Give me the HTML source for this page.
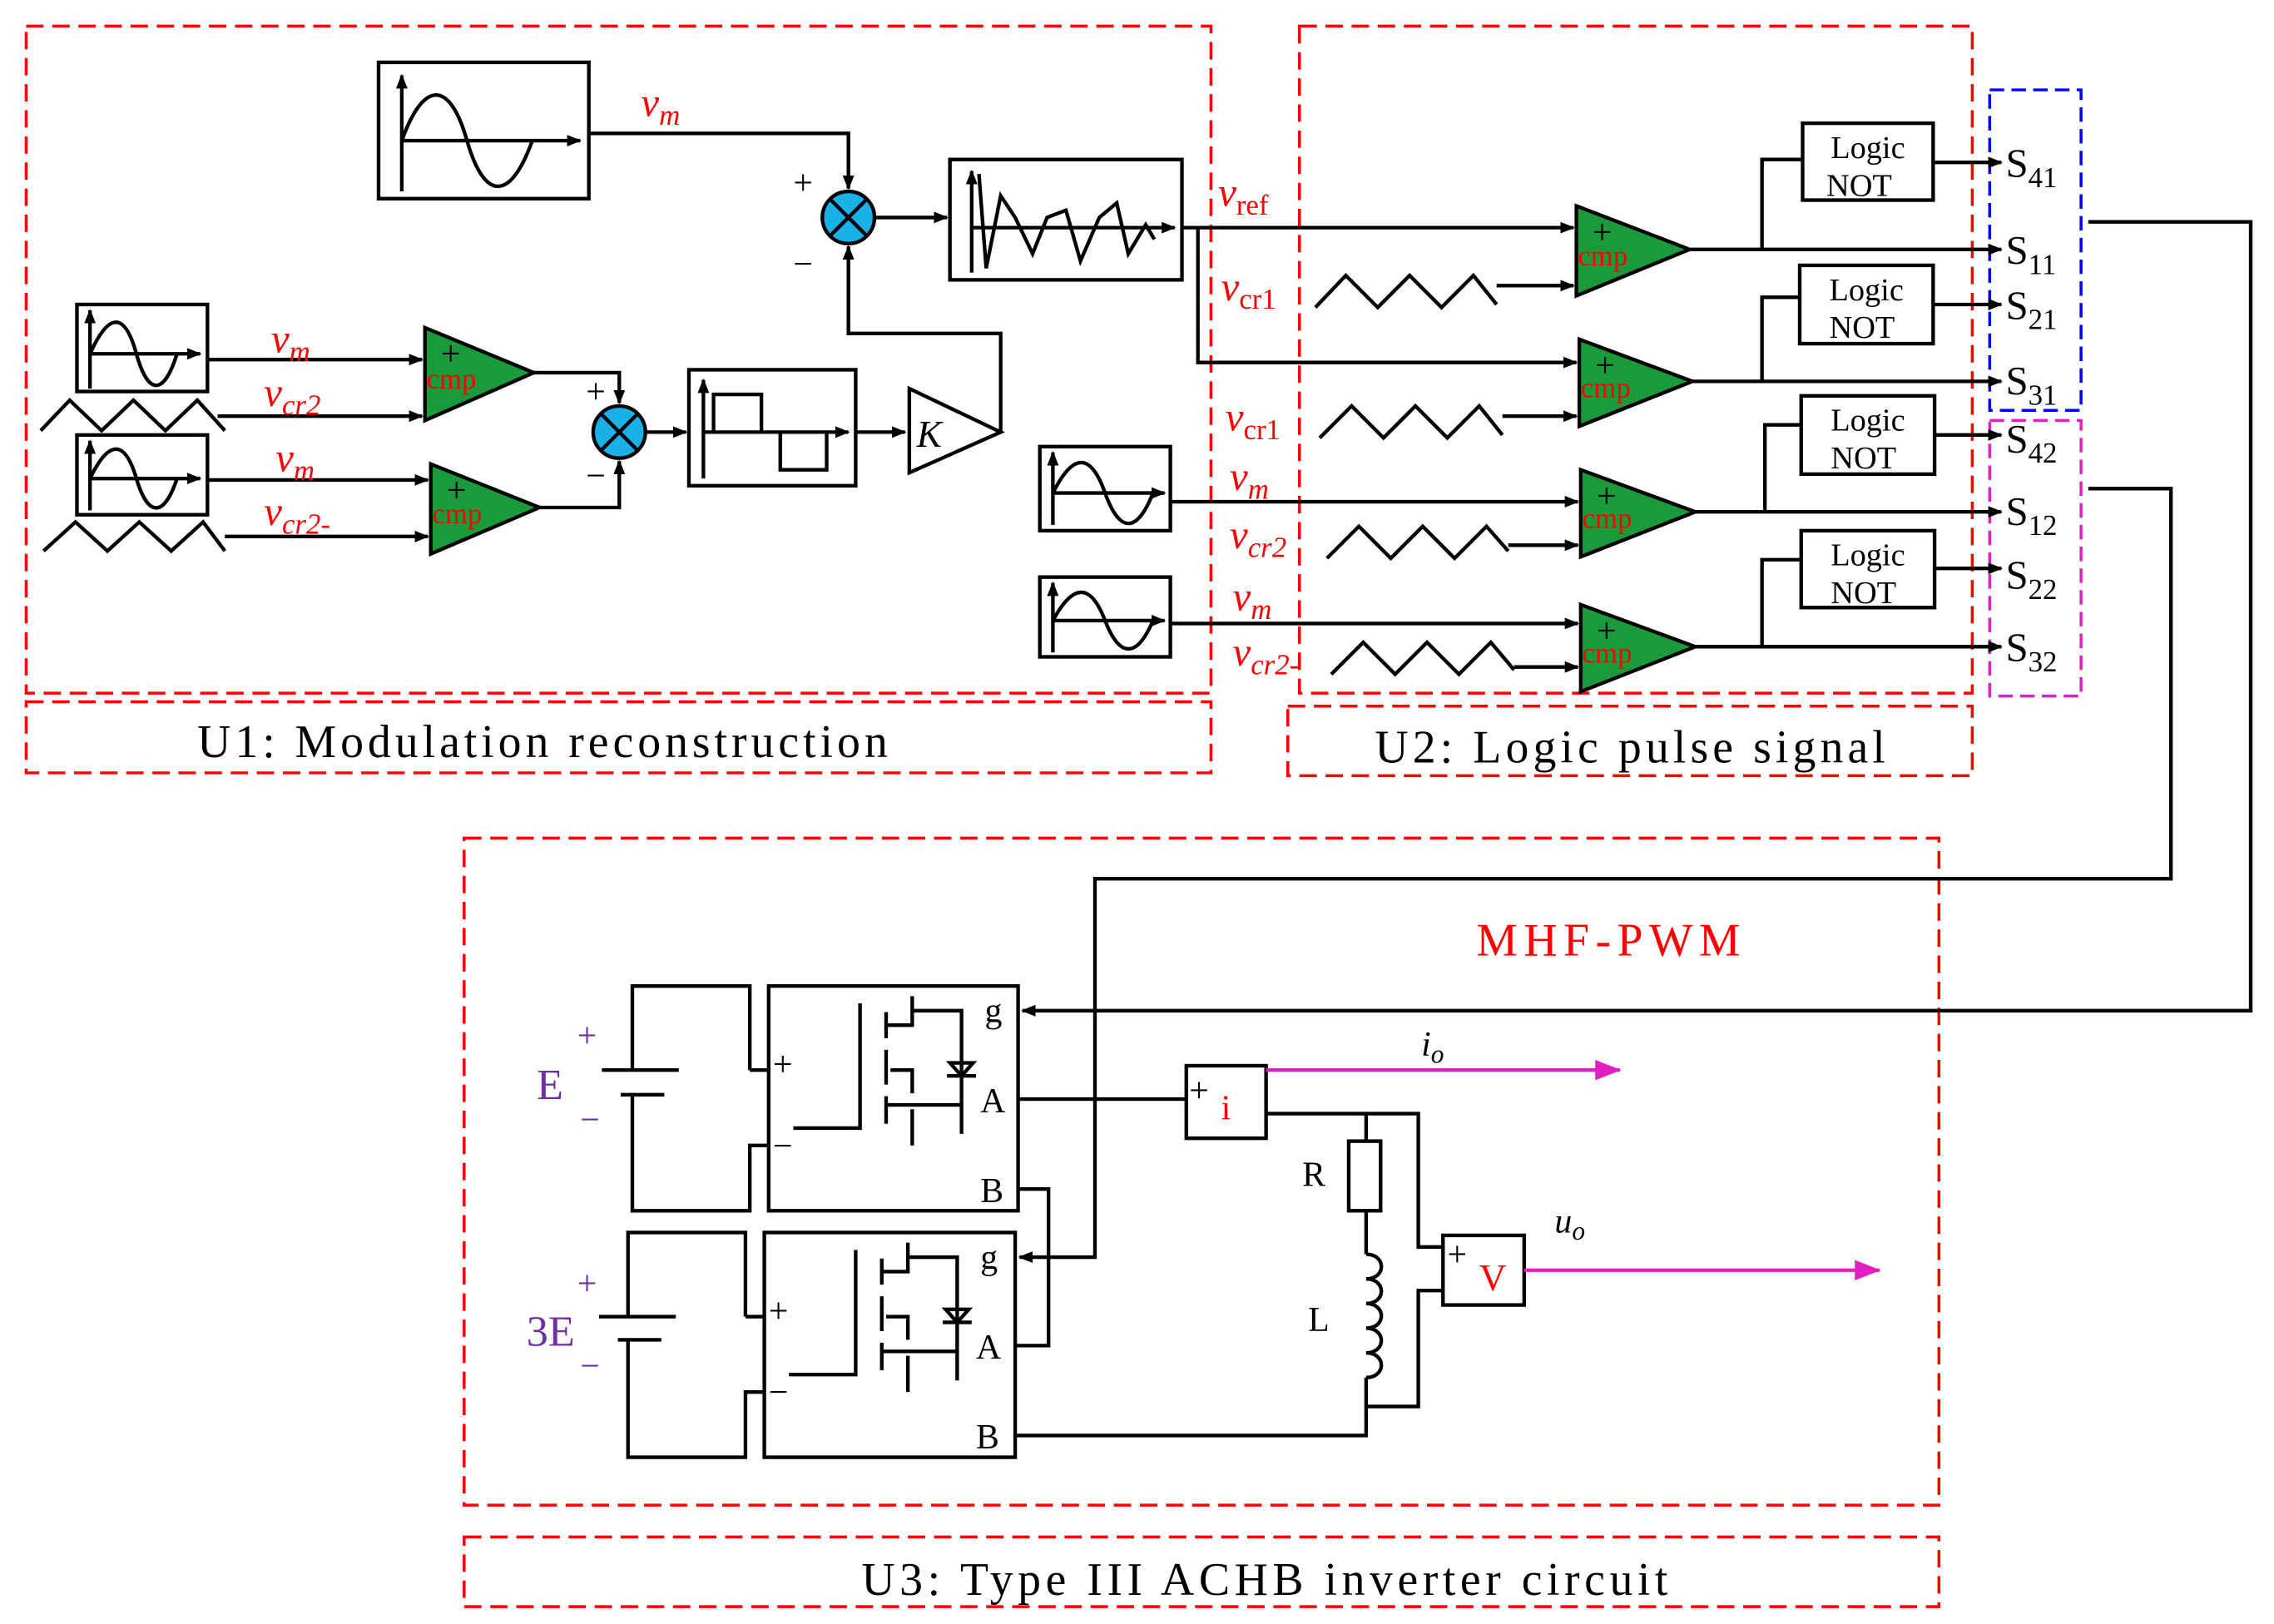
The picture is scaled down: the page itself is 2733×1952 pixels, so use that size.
<!DOCTYPE html>
<html><head><meta charset="utf-8"><style>html,body{margin:0;padding:0;background:#fff}svg{display:block}</style></head>
<body>
<svg width="2733" height="1952" viewBox="0 0 1568 1120" xmlns="http://www.w3.org/2000/svg" font-family="Liberation Serif, serif">
<defs>
<marker id="a" markerWidth="10" markerHeight="8" refX="9" refY="4" orient="auto" markerUnits="userSpaceOnUse"><path d="M0,0 L10,4 L0,8z" fill="#000"/></marker>
<marker id="m" markerWidth="18" markerHeight="14" refX="17" refY="7" orient="auto" markerUnits="userSpaceOnUse"><path d="M0,0 L18,7 L0,14z" fill="#e020c0"/></marker>
</defs>
<rect width="1568" height="1120" fill="#fff"/>
<g fill="none" stroke="#f00" stroke-width="2" stroke-dasharray="12,6">
<rect x="18" y="18" width="817" height="460"/>
<rect x="18" y="484" width="817" height="49"/>
<rect x="896" y="18" width="464" height="460"/>
<rect x="888" y="487" width="472" height="48"/>
<rect x="320" y="578" width="1017" height="460"/>
<rect x="320" y="1060" width="1017" height="48"/>
</g>
<rect x="1372" y="62" width="63" height="221" fill="none" stroke="#00f" stroke-width="2" stroke-dasharray="10,5"/>
<rect x="1372" y="290" width="63" height="190" fill="none" stroke="#e020c0" stroke-width="2" stroke-dasharray="10,5"/>
<g font-size="32" fill="#000">
<text x="136" y="522" textLength="476" lengthAdjust="spacing">U1:  Modulation reconstruction</text>
<text x="948" y="526" textLength="352" lengthAdjust="spacing">U2:  Logic pulse signal</text>
<text x="594" y="1100" textLength="556" lengthAdjust="spacing">U3:  Type III ACHB inverter circuit</text>
</g>
<text x="1018" y="659" font-size="32" fill="#f00" textLength="182" lengthAdjust="spacing">MHF-PWM</text>

<g stroke="#000" stroke-width="2.5" fill="none">
<rect x="261" y="43" width="145" height="94"/>
<line x1="277" y1="132" x2="277" y2="52" marker-end="url(#a)"/>
<line x1="277" y1="97" x2="400" y2="97" marker-end="url(#a)"/>
<path d="M277,97 C292,55 310,55 322,97 C334,139 352,139 367,97"/>
<polyline points="406,92 585,92 585,130" marker-end="url(#a)"/>
<circle cx="585" cy="150" r="18" fill="#1ab0e8"/>
<path d="M572,137 L598,163 M598,137 L572,163"/>
<line x1="603" y1="150" x2="653" y2="150" marker-end="url(#a)"/>
<rect x="655" y="110" width="160" height="83"/>
<line x1="670" y1="188" x2="670" y2="118" marker-end="url(#a)"/>
<line x1="670" y1="157" x2="810" y2="157" marker-end="url(#a)"/>
<path d="M675,120 L680,185 L690,135 L700,150 L712,175 L722,150 L735,145 L745,180 L758,150 L770,140 L778,175 L790,155 L796,165"/>
<polyline points="815,157 1085,157" marker-end="url(#a)"/>
<polyline points="826,157 826,250 1087,250" marker-end="url(#a)"/>
<polygon points="627,268 690,298 627,326"/>
<polyline points="690,298 690,230 585,230 585,170" marker-end="url(#a)"/>
<rect x="475" y="255" width="115" height="80"/>
<line x1="485" y1="330" x2="485" y2="262" marker-end="url(#a)"/>
<line x1="485" y1="298" x2="585" y2="298" marker-end="url(#a)"/>
<path d="M492,298 V272 H525 V298 M538,298 V324 H570 V298"/>
<line x1="590" y1="298" x2="624" y2="298" marker-end="url(#a)"/>
<circle cx="427" cy="298" r="18" fill="#1ab0e8"/>
<path d="M414,285 L440,311 M440,285 L414,311"/>
<polyline points="368,257 427,257 427,278" marker-end="url(#a)"/>
<polyline points="372,350 427,350 427,318" marker-end="url(#a)"/>
<line x1="445" y1="298" x2="473" y2="298" marker-end="url(#a)"/>
<rect x="53" y="210" width="90" height="60"/>
<line x1="62" y1="268" x2="62" y2="214" marker-end="url(#a)"/>
<line x1="62" y1="244" x2="138" y2="244" marker-end="url(#a)"/>
<path d="M62,244 C75,215 86,215 94,244 C102,273 113,273 122,244"/>
<rect x="53" y="300" width="90" height="55"/>
<line x1="62" y1="352" x2="62" y2="304" marker-end="url(#a)"/>
<line x1="62" y1="330" x2="138" y2="330" marker-end="url(#a)"/>
<path d="M62,330 C75,303 86,303 94,330 C102,357 113,357 122,330"/>
<path d="M28,297 L48,276 L70,297 L92,276 L114,297 L136,276 L155,297"/>
<path d="M30,380 L52,360 L74,380 L96,360 L118,380 L140,360 L155,380"/>
<line x1="143" y1="248" x2="291" y2="248" marker-end="url(#a)"/>
<line x1="150" y1="287" x2="291" y2="287" marker-end="url(#a)"/>
<line x1="143" y1="331" x2="295" y2="331" marker-end="url(#a)"/>
<line x1="155" y1="370" x2="295" y2="370" marker-end="url(#a)"/>
</g>
<g stroke="#000" stroke-width="2.5" fill="#1a9a3a">
<polygon points="293,226 368,257 293,290"/>
<polygon points="297,320 372,350 297,382"/>
<polygon points="1087,142 1165,172 1087,204"/>
<polygon points="1089,234 1167,263 1089,294"/>
<polygon points="1090,324 1169,353 1090,384"/>
<polygon points="1090,417 1169,446 1090,477"/>
</g>
<g font-size="20" fill="#f00">
<text x="294" y="268">cmp</text><text x="298" y="361">cmp</text>
<text x="1088" y="183">cmp</text><text x="1090" y="274">cmp</text>
<text x="1091" y="364">cmp</text><text x="1091" y="457">cmp</text>
</g>
<g font-size="24" fill="#000">
<text x="304" y="252">+</text><text x="308" y="346">+</text>
<text x="1098" y="168">+</text><text x="1100" y="260">+</text><text x="1101" y="350">+</text><text x="1101" y="443">+</text>
<text x="547" y="134">+</text><text x="547" y="190">−</text>
<text x="404" y="278">+</text><text x="404" y="336">−</text>
</g>
<text x="632" y="308" font-size="26" font-style="italic">K</text>
<g stroke="#000" stroke-width="2.5" fill="none">
<path d="M907,212 L928,190 L950,212 L972,190 L994,212 L1016,190 L1032,210"/>
<path d="M910,302 L932,280 L954,302 L976,280 L998,302 L1020,280 L1036,300"/>
<path d="M915,385 L937,363 L959,385 L981,363 L1003,385 L1025,363 L1040,380"/>
<path d="M918,465 L940,443 L962,465 L984,443 L1006,465 L1028,443 L1044,462"/>
<line x1="1032" y1="197" x2="1085" y2="197" marker-end="url(#a)"/>
<line x1="1036" y1="287" x2="1087" y2="287" marker-end="url(#a)"/>
<line x1="1040" y1="376" x2="1088" y2="376" marker-end="url(#a)"/>
<line x1="1044" y1="460" x2="1088" y2="460" marker-end="url(#a)"/>
<rect x="717" y="308" width="90" height="58"/>
<line x1="726" y1="362" x2="726" y2="312" marker-end="url(#a)"/>
<line x1="726" y1="340" x2="803" y2="340" marker-end="url(#a)"/>
<path d="M726,340 C740,312 752,312 762,340 C772,368 784,368 795,340"/>
<rect x="717" y="398" width="90" height="55"/>
<line x1="726" y1="450" x2="726" y2="402" marker-end="url(#a)"/>
<line x1="726" y1="428" x2="803" y2="428" marker-end="url(#a)"/>
<path d="M726,428 C740,402 752,402 762,428 C772,454 784,454 795,428"/>
<line x1="807" y1="346" x2="1088" y2="346" marker-end="url(#a)"/>
<line x1="807" y1="430" x2="1088" y2="430" marker-end="url(#a)"/>
<line x1="1165" y1="172" x2="1380" y2="172" marker-end="url(#a)"/>
<polyline points="1215,172 1215,110 1243,110"/>
<line x1="1333" y1="112" x2="1380" y2="112" marker-end="url(#a)"/>
<line x1="1167" y1="263" x2="1380" y2="263" marker-end="url(#a)"/>
<polyline points="1215,263 1215,205 1241,205"/>
<line x1="1333" y1="210" x2="1380" y2="210" marker-end="url(#a)"/>
<line x1="1169" y1="353" x2="1380" y2="353" marker-end="url(#a)"/>
<polyline points="1217,353 1217,293 1242,293"/>
<line x1="1334" y1="300" x2="1380" y2="300" marker-end="url(#a)"/>
<line x1="1169" y1="446" x2="1380" y2="446" marker-end="url(#a)"/>
<polyline points="1215,446 1215,386 1242,386"/>
<line x1="1334" y1="392" x2="1380" y2="392" marker-end="url(#a)"/>
<rect x="1243" y="85" width="90" height="53"/>
<rect x="1241" y="183" width="92" height="54"/>
<rect x="1242" y="273" width="92" height="54"/>
<rect x="1242" y="366" width="92" height="53"/>
<polyline points="1440,153 1552,153 1552,697 705,697" marker-end="url(#a)"/>
<polyline points="1440,337 1497,337 1497,606 755,606 755,867 703,867" marker-end="url(#a)"/>
</g>
<g font-size="22" fill="#000" text-anchor="middle">
<text x="1288" y="109">Logic</text><text x="1282" y="135">NOT</text>
<text x="1287" y="207">Logic</text><text x="1284" y="233">NOT</text>
<text x="1288" y="297">Logic</text><text x="1285" y="323">NOT</text>
<text x="1288" y="390">Logic</text><text x="1285" y="416">NOT</text>
</g>
<g font-size="28" fill="#000">
<text x="1383" y="122">S<tspan font-size="20" dy="7">41</tspan></text>
<text x="1383" y="182">S<tspan font-size="20" dy="7">11</tspan></text>
<text x="1383" y="220">S<tspan font-size="20" dy="7">21</tspan></text>
<text x="1383" y="272">S<tspan font-size="20" dy="7">31</tspan></text>
<text x="1383" y="312">S<tspan font-size="20" dy="7">42</tspan></text>
<text x="1383" y="362">S<tspan font-size="20" dy="7">12</tspan></text>
<text x="1383" y="406">S<tspan font-size="20" dy="7">22</tspan></text>
<text x="1383" y="456">S<tspan font-size="20" dy="7">32</tspan></text>
</g>
<g fill="#f00" font-style="italic" font-size="28">
<text x="442" y="80">v<tspan font-size="20" dy="6">m</tspan></text>
<text x="187" y="243">v<tspan font-size="20" dy="6">m</tspan></text>
<text x="182" y="280">v<tspan font-size="20" dy="6">cr2</tspan></text>
<text x="190" y="325">v<tspan font-size="20" dy="6">m</tspan></text>
<text x="182" y="362">v<tspan font-size="20" dy="6">cr2-</tspan></text>
<text x="840" y="142">v<tspan font-size="20" dy="6" font-style="normal">ref</tspan></text>
<text x="842" y="207">v<tspan font-size="20" dy="6" font-style="normal">cr1</tspan></text>
<text x="845" y="297">v<tspan font-size="20" dy="6" font-style="normal">cr1</tspan></text>
<text x="848" y="338">v<tspan font-size="20" dy="6">m</tspan></text>
<text x="848" y="378">v<tspan font-size="20" dy="6">cr2</tspan></text>
<text x="850" y="421">v<tspan font-size="20" dy="6">m</tspan></text>
<text x="850" y="459">v<tspan font-size="20" dy="6">cr2-</tspan></text>
</g>
<g stroke="#000" stroke-width="2.5" fill="none">
<rect x="530" y="680" width="172" height="155"/>
<rect x="527" y="850" width="173" height="155"/>
<polyline points="517,738 517,680 436,680 436,738"/>
<line x1="415" y1="738" x2="468" y2="738"/>
<line x1="428" y1="755" x2="458" y2="755"/>
<polyline points="436,755 436,835 517,835 517,790 530,790"/>
<line x1="517" y1="738" x2="530" y2="738"/>
<polyline points="514,908 514,850 433,850 433,908"/>
<line x1="413" y1="908" x2="466" y2="908"/>
<line x1="426" y1="924" x2="456" y2="924"/>
<polyline points="433,924 433,1005 514,1005 514,960 527,960"/>
<line x1="514" y1="908" x2="527" y2="908"/>
<line x1="702" y1="758" x2="818" y2="758"/>
<rect x="818" y="735" width="55" height="50"/>
<polyline points="873,768 942,768 942,787"/>
<rect x="930" y="787" width="22" height="48"/>
<line x1="942" y1="835" x2="942" y2="865"/>
<path d="M942,865 c14,0 14,17 0,17 c14,0 14,17 0,17 c14,0 14,17 0,17 c14,0 14,17 0,17 c14,0 14,17 0,17"/>
<polyline points="942,950 942,990 700,990"/>
<polyline points="942,768 978,768 978,860 995,860"/>
<polyline points="995,890 978,890 978,970 942,970"/>
<rect x="995" y="852" width="56" height="48"/>
<polyline points="702,820 723,820 723,928 700,928"/>
</g>
<g stroke="#000" stroke-width="2.5" fill="none">
<path d="M547,778 H593 V692"/>
<path d="M611,698 V716 M611,724 V748 M611,756 V775"/>
<path d="M611,707 H629 V687 M629,697 H663 V782 M611,762 H663 M629,765 V790 M629,754 V738 H614"/>
<path d="M653,742 H673 M655,733 H671 L663,742z"/>
</g>
<g stroke="#000" stroke-width="2.5" fill="none" transform="translate(-3,170)">
<path d="M547,778 H593 V692"/>
<path d="M611,698 V716 M611,724 V748 M611,756 V775"/>
<path d="M611,707 H629 V687 M629,697 H663 V782 M611,762 H663 M629,765 V790 M629,754 V738 H614"/>
<path d="M653,742 H673 M655,733 H671 L663,742z"/>
</g>
<g stroke="#e020c0" stroke-width="2.5">
<line x1="873" y1="738" x2="1117" y2="738" marker-end="url(#m)"/>
<line x1="1051" y1="876" x2="1296" y2="876" marker-end="url(#m)"/>
</g>
<g font-size="24" fill="#000">
<text x="679" y="705">g</text><text x="676" y="767">A</text><text x="676" y="829">B</text>
<text x="676" y="875">g</text><text x="673" y="937">A</text><text x="673" y="999">B</text>
<text x="533" y="742">+</text><text x="533" y="798">−</text>
<text x="530" y="912">+</text><text x="530" y="968">−</text>
<text x="898" y="818">R</text><text x="902" y="918">L</text>
<text x="820" y="760">+</text><text x="854" y="782">_</text>
<text x="998" y="873">+</text><text x="998" y="898">_</text>
<text x="980" y="728" font-style="italic">i<tspan font-size="18" dy="5">o</tspan></text>
<text x="1072" y="850" font-style="italic">u<tspan font-size="18" dy="5">o</tspan></text>
</g>
<text x="842" y="772" font-size="24" fill="#f00">i</text>
<text x="1020" y="890" font-size="26" fill="#f00">V</text>
<g fill="#7030a0" font-size="30">
<text x="370" y="758">E</text><text x="363" y="928">3E</text>
<text x="398" y="722" font-size="24">+</text><text x="400" y="780" font-size="24">−</text>
<text x="398" y="893" font-size="24">+</text><text x="400" y="950" font-size="24">−</text>
</g>
</svg>
</body></html>
